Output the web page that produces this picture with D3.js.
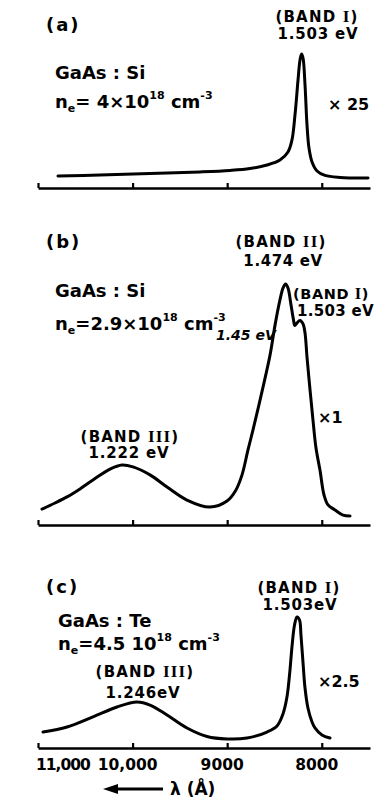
<!DOCTYPE html>
<html>
<head>
<meta charset="utf-8">
<script src="https://cdn.jsdelivr.net/npm/d3@7"></script>
<style>
  body { margin: 0; background: #fff; }
  text { font-family: "DejaVu Sans", sans-serif; font-weight: bold; fill: #000; }
</style>
</head>
<body>
<div id="chart"></div>
<script>
const width = 374;
const height = 800;

// wavelength axis (Å)
const tickValues = [11000, 10000, 9000, 8000];
const tickLabels = ["11,000", "10,000", "9000", "8000"];

// (a) GaAs:Si, ne = 4e18 — arbitrary units, peak ~1
const wlA = [10789, 10345, 9816, 9287, 8970, 8759, 8579, 8442, 8357, 8315, 8283, 8251, 8230, 8214, 8198, 8177, 8156, 8135, 8103, 8050, 7966, 7807, 7511];
const intA = [0.089, 0.096, 0.107, 0.119, 0.130, 0.144, 0.170, 0.207, 0.267, 0.356, 0.541, 0.800, 0.948, 0.993, 0.963, 0.763, 0.467, 0.296, 0.193, 0.126, 0.093, 0.078, 0.074];

// (b) GaAs:Si, ne = 2.9e18
const wlB = [10958, 10820, 10693, 10556, 10419, 10239, 10112, 9996, 9816, 9636, 9425, 9182, 9002, 8907, 8843, 8780, 8727, 8621, 8547, 8494, 8442, 8410, 8383, 8357, 8325, 8300, 8285, 8262, 8230, 8198, 8177, 8156, 8124, 8093, 8061, 8019, 7976, 7934, 7860, 7775, 7701];
const intB = [0.066, 0.091, 0.116, 0.149, 0.186, 0.231, 0.248, 0.240, 0.207, 0.157, 0.103, 0.074, 0.099, 0.145, 0.207, 0.310, 0.393, 0.570, 0.702, 0.826, 0.930, 0.979, 0.996, 0.979, 0.909, 0.850, 0.824, 0.835, 0.845, 0.831, 0.793, 0.694, 0.558, 0.434, 0.318, 0.227, 0.124, 0.083, 0.062, 0.041, 0.037];

// (c) GaAs:Te, ne = 4.5e18
const wlC = [10947, 10693, 10419, 10165, 9953, 9816, 9636, 9425, 9213, 9002, 8790, 8579, 8473, 8410, 8368, 8336, 8315, 8288, 8262, 8235, 8220, 8198, 8177, 8146, 8103, 8072, 7998, 7913];
const intC = [0.122, 0.160, 0.237, 0.313, 0.351, 0.328, 0.252, 0.153, 0.088, 0.069, 0.076, 0.122, 0.168, 0.260, 0.389, 0.595, 0.771, 0.939, 1.000, 0.977, 0.863, 0.649, 0.458, 0.305, 0.198, 0.153, 0.099, 0.076];

const svg = d3.select("#chart").append("svg")
  .attr("width", width)
  .attr("height", height)
  .style("background", "#fff");

const x = d3.scaleLinear().domain([11000, 7490]).range([38, 370]);

// one panel = axis + spectrum
function panel(axisY, peakY, wl, inten, showLabels) {
  const y = d3.scaleLinear().domain([0, 1]).range([axisY, peakY]);

  const ax = svg.append("g")
    .attr("transform", `translate(0,${axisY})`)
    .call(d3.axisTop(x).tickValues(tickValues).tickSizeInner(5).tickSizeOuter(0).tickFormat(""));
  ax.select(".domain").attr("stroke", "#000").attr("stroke-width", 2.6);
  ax.selectAll(".tick line").attr("stroke", "#000").attr("stroke-width", 2.2);

  const line = d3.line()
    .x(d => x(d[0]))
    .y(d => y(d[1]))
    .curve(d3.curveCatmullRom.alpha(0.5));

  svg.append("path")
    .datum(d3.zip(wl, inten))
    .attr("d", line)
    .attr("fill", "none")
    .attr("stroke", "#000")
    .attr("stroke-width", 3)
    .attr("stroke-linejoin", "round")
    .attr("stroke-linecap", "round");

  if (showLabels) {
    // the "11,000" is set narrow, starting at the axis end
    svg.append("g").selectAll("text")
      .data(tickValues)
      .join("text")
      .attr("x", d => x(d))
      .attr("y", axisY + 22)
      .attr("dx", (d, i) => i === 0 ? -2 : -5)
      .attr("text-anchor", (d, i) => i === 0 ? "start" : "middle")
      .attr("font-size", 15.5)
      .attr("font-family", (d, i) => i === 0 ? "Liberation Sans" : null)
      .attr("letter-spacing", (d, i) => i === 0 ? -1 : 0)
      .text((d, i) => tickLabels[i]);
  }
}

panel(188, 53, wlA, intA, false);
panel(525, 283, wlB, intB, false);
panel(748, 617, wlC, intC, true);

// plain text helper
function txt(xp, yp, s, size, anchor, spacing) {
  return svg.append("text")
    .attr("x", xp).attr("y", yp)
    .attr("font-size", size)
    .attr("text-anchor", anchor || "start")
    .attr("letter-spacing", spacing || 0)
    .text(s);
}

// band name with a serif roman numeral
function band(xp, yp, numeral, anchor, size, spacing) {
  const t = svg.append("text")
    .attr("x", xp).attr("y", yp)
    .attr("font-size", size || 15)
    .attr("text-anchor", anchor || "middle")
    .attr("letter-spacing", spacing === undefined ? 1.2 : spacing);
  t.append("tspan").text("(BAND ");
  t.append("tspan").attr("font-family", "Liberation Serif").attr("font-size", (size || 15) + 2).text(numeral);
  t.append("tspan").text(")");
  return t;
}

// carrier density line: n_e = ... 10^18 cm^-3
function density(xp, yp, mid) {
  const t = svg.append("text").attr("x", xp).attr("y", yp).attr("font-size", 18);
  t.append("tspan").text("n");
  t.append("tspan").attr("font-size", 11).attr("dy", 4).text("e");
  t.append("tspan").attr("dy", -4).text(mid);
  t.append("tspan").attr("font-size", 11).attr("dy", -9).text("18");
  t.append("tspan").attr("dy", 9).text(" cm");
  t.append("tspan").attr("font-size", 11).attr("dy", -9).text("-3");
}

// (a)
txt(46, 31, "(a)", 18, "start", 2);
txt(55, 79, "GaAs : Si", 18);
density(55, 108, "= 4×10");
band(317, 22, "I");
txt(318, 39, "1.503 eV", 15, "middle", 0.8);
txt(328, 110, "× 25", 16);

// (b)
txt(46, 248, "(b)", 18, "start", 2);
band(281, 247, "II");
txt(283, 266, "1.474 eV", 15, "middle", 0.6);
txt(55, 297, "GaAs : Si", 18);
density(55, 330, "=2.9×10");
txt(216, 340, "1.45 eV", 14).attr("font-style", "italic");
band(293, 299, "I", "start", 14.5, 0.6);
txt(297, 316, "1.503 eV", 15, "start", 0.3);
txt(318, 423, "×1", 16);
band(130, 442, "III");
txt(129, 458, "1.222 eV", 15, "middle", 0.8);

// (c)
txt(46, 593, "(c)", 18, "start", 2);
txt(58, 627, "GaAs : Te", 18);
density(58, 650, "=4.5  10");
band(145, 677, "III");
txt(143, 698, "1.246eV", 15, "middle", 0.8);
band(299, 593, "I");
txt(300, 610, "1.503eV", 15, "middle", 0.8);
txt(318, 687, "×2.5", 16);

// wavelength direction arrow
svg.append("line")
  .attr("x1", 110).attr("y1", 789).attr("x2", 163).attr("y2", 789)
  .attr("stroke", "#000").attr("stroke-width", 3);
svg.append("path")
  .attr("d", "M103,789L118,784L118,794Z")
  .attr("fill", "#000");
txt(170, 795, "λ (Å)", 17);
</script>
</body>
</html>
